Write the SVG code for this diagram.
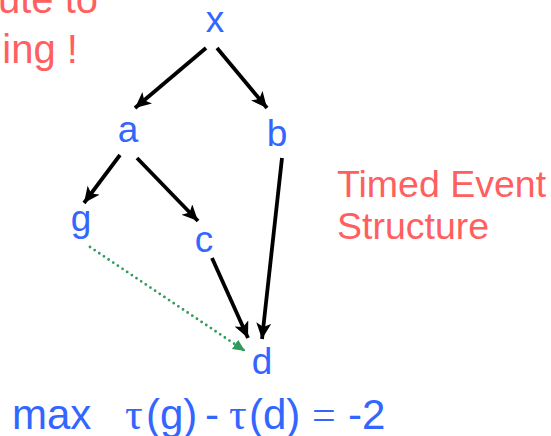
<svg xmlns="http://www.w3.org/2000/svg" width="551" height="436" viewBox="0 0 551 436">
<defs>
<style>
.node{font-family:"Liberation Sans",Arial,sans-serif;font-size:37px;fill:#3366FF;text-anchor:middle}
.red{font-family:"Liberation Sans",Arial,sans-serif;font-size:40px;fill:#FF5F5F}
.eq{font-family:"Liberation Sans",Arial,sans-serif;font-size:42px;fill:#3366FF}
.serif{font-family:"Liberation Serif","Times New Roman",serif}
.edge{stroke:#000;stroke-width:3.8;fill:none;marker-end:url(#ah)}
.dot{stroke:#2E9B5C;stroke-width:2.8;fill:none;stroke-linecap:round;stroke-dasharray:0 5.6;marker-end:url(#gh)}
</style>
<marker id="ah" markerUnits="userSpaceOnUse" markerWidth="18" markerHeight="16" refX="16" refY="7.5" orient="auto">
<path d="M0,0 L16,7.5 L0,15 L4,7.5 Z" fill="#000"/>
</marker>
<marker id="gh" markerUnits="userSpaceOnUse" markerWidth="13" markerHeight="12" refX="12" refY="5.5" orient="auto">
<path d="M0,0 L12,5.5 L0,11 Z" fill="#2E9B5C"/>
</marker>
</defs>
<rect width="551" height="436" fill="#fff"/>
<g id="note">
<text class="red" x="98" y="13" text-anchor="end">ute to</text>
<text class="red" x="-20" y="63">hing !</text>
</g>
<g id="connectors">
<line class="edge" x1="206" y1="48" x2="135" y2="108"/>
<line class="edge" x1="217" y1="48" x2="267" y2="108"/>
<line class="edge" x1="120" y1="155" x2="84" y2="203"/>
<line class="edge" x1="137" y1="158" x2="198" y2="221"/>
<line class="edge" x1="282" y1="158" x2="262" y2="339"/>
<line class="edge" x1="212" y1="258" x2="248" y2="338"/>
<line class="dot" x1="90" y1="247" x2="245" y2="351"/>
</g>
<g id="node-x"><text class="node" x="215" y="32">x</text></g>
<g id="node-a"><text class="node" x="128" y="142">a</text></g>
<g id="node-b"><text class="node" x="277" y="146">b</text></g>
<g id="node-g"><text class="node" x="81" y="231">g</text></g>
<g id="node-c"><text class="node" x="204" y="252">c</text></g>
<g id="node-d"><text class="node" x="262" y="374">d</text></g>
<g id="title">
<text class="red" x="337" y="197" style="font-size:37.5px">Timed Event</text>
<text class="red" x="337" y="239" style="font-size:37.5px">Structure</text>
</g>
<g id="formula">
<text class="eq" y="429"><tspan x="12">max</tspan><tspan x="125" class="serif" style="font-size:44px">τ</tspan><tspan x="146">(g)</tspan><tspan x="205">-</tspan><tspan x="229" class="serif" style="font-size:44px">τ</tspan><tspan x="249">(d)</tspan><tspan x="312" class="serif">=</tspan><tspan x="348">-2</tspan></text>
</g>
</svg>
